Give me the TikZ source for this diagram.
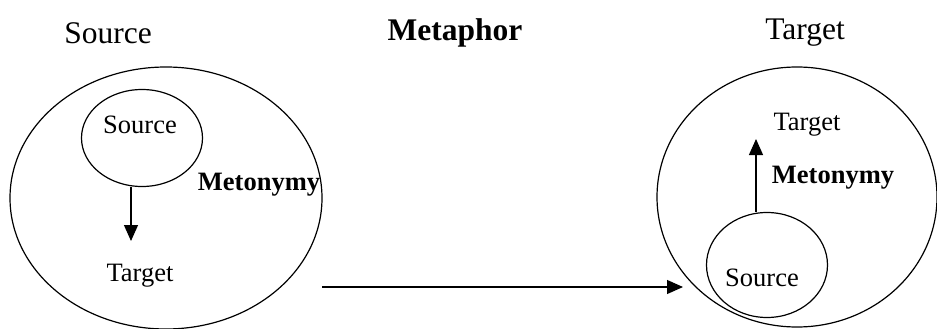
\documentclass[tikz,border=0pt]{standalone}
\usepackage{fontspec}
\setmainfont{Liberation Serif}
\usetikzlibrary{shapes.geometric,arrows.meta}
\begin{document}
\begin{tikzpicture}[x=1pt,y=-1pt,
  ell/.style={draw,ellipse,line width=1.2pt,inner sep=0pt},
  head/.style={font=\fontsize{31.5}{35}\selectfont,inner sep=0pt},
  lab/.style={font=\fontsize{26.5}{30}\selectfont,inner sep=0pt},
  arr/.style={line width=1.2pt,-{Triangle[length=16pt,width=14pt]}}]
\useasboundingbox (0,0) rectangle (937,329);
% headers
\node[head] (hs) at (108,33) {Source};
\node[head,font=\fontsize{31.5}{35}\selectfont\bfseries] (hm) at (455,33) {Metaphor};
\node[head] (ht) at (805,33) {Target};
% left domain
\node[ell,minimum width=312pt,minimum height=262pt] (lb) at (166,198) {};
\node[ell,minimum width=121pt,minimum height=97pt] (ls) at (142,138) {};
\node[lab] (lsrc) at (140,125) {Source};
\node[lab] (ltgt) at (140,276) {Target};
\node[lab,font=\fontsize{26.5}{30}\selectfont\bfseries] (lmet) at (259,185) {Metonymy};
\coordinate (a1) at (131,241);
\draw[arr] (a1 |- ls.south) -- (a1);
% right domain
\node[ell,minimum width=280pt,minimum height=260pt] (rb) at (797,197) {};
\node[ell,minimum width=121pt,minimum height=105pt] (rs) at (767,265) {};
\node[lab] (rsrc) at (762,278) {Source};
\node[lab] (rtgt) at (807,125) {Target};
\node[lab,font=\fontsize{26.5}{30}\selectfont\bfseries] (rmet) at (833,178) {Metonymy};
\coordinate (a2) at (756,139);
\draw[arr] (a2 |- rs.north) -- (a2);
% metaphor mapping
\coordinate (h1) at (322,287);
\coordinate (h2) at (683,287);
\draw[arr] (h1) -- (h2);
\end{tikzpicture}
\end{document}
